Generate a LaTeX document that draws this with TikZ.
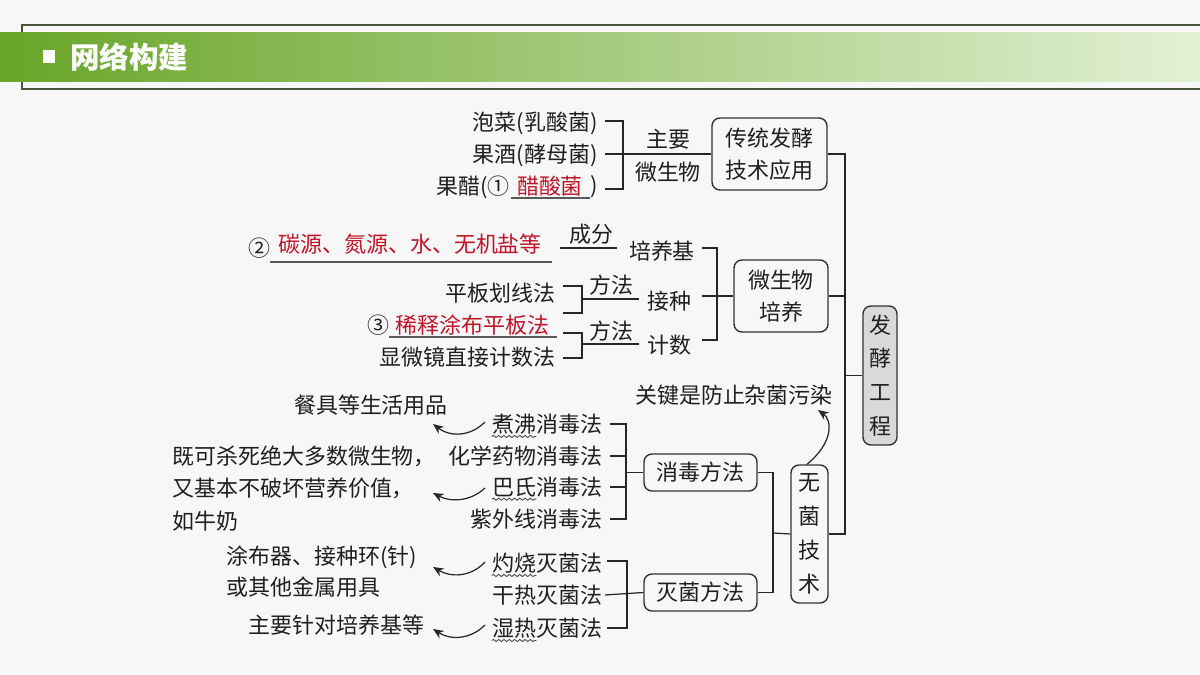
\documentclass[tikz,border=0pt]{standalone}
\usepackage{fontspec}
\newfontfamily\cjk{Noto Sans CJK SC}
\usetikzlibrary{arrows.meta,decorations.pathmorphing}
\definecolor{ansred}{RGB}{192,20,40}
\definecolor{bgc}{RGB}{247,247,247}
\definecolor{gA}{RGB}{104,165,40}
\definecolor{gB}{RGB}{172,216,112}
\definecolor{gC}{RGB}{226,241,212}
\definecolor{frame}{RGB}{70,85,55}
\begin{document}
\begin{tikzpicture}[x=0.02cm,y=-0.02cm,
 txt/.style={inner sep=0pt, font=\cjk\fontsize{12.5}{14}\selectfont, text=black!88},
 ans/.style={txt, text=ansred},
 box/.style={draw=black!80, line width=0.8pt, rounded corners=4.5pt, inner sep=0pt, align=center, font=\cjk\fontsize{12.5}{18.2}\selectfont, text=black!88},
 vbox/.style={box, font=\cjk\fontsize{12.5}{19.3}\selectfont},
 conn/.style={draw=black!85, line width=0.7pt},
 uline/.style={draw=black!65, line width=0.8pt},
 wavy/.style={draw=black!70, line width=0.5pt, decorate, decoration={snake, amplitude=0.6pt, segment length=3pt}},
 carrow/.style={draw=black!85, line width=0.7pt, -{Stealth[length=6pt,width=5pt]}}
]
\useasboundingbox (0,0) rectangle (1200,675);
\fill[bgc] (0,0) rectangle (1200,675);
% header
\draw[frame, line width=0.6pt] (1200,25) -- (22,25) -- (22,89) -- (1200,89);
\shade[left color=gA, middle color=gB, right color=gC] (0,33) rectangle (1200,82);
\fill[white] (43,50) rectangle (55,63);
\node[anchor=west, inner sep=0pt, text=white, font=\cjk\bfseries\fontsize{16.8}{18}\selectfont] (title) at (70,57) {网络构建};

% ---------- traditional fermentation
\node[txt, anchor=east] (pc) at (598,123) {泡菜(乳酸菌)};
\node[txt, anchor=east] (gj) at (598,155) {果酒(酵母菌)};
\node[txt, anchor=east] (gcR) at (598,187) {)};
\node[ans] (a1) at (550,186) {醋酸菌};
\node[txt, anchor=east] (gcL) at (510,187) {果醋(①};
\draw[uline] (511,198) -- (590,198);
\node[txt] (zy) at (668,139) {主要};
\node[txt] (wsw) at (668,172) {微生物};
\node[box, minimum width=2.3cm, minimum height=1.44cm] (bTrad) at (769.5,154) {传统发酵\\技术应用};
\coordinate (b1t) at (605,121);
\coordinate (b1b) at (605,189);
\coordinate (b1m) at (605,154);
\draw[conn] (b1t) -- ++(18,0) |- (b1b);
\draw[conn] (b1m) -- (bTrad.west);

% ---------- culture
\node[txt] (n2) at (259,248) {②};
\node[ans, anchor=west] (a2) at (278,244) {碳源、氮源、水、无机盐等};
\draw[uline] (270,262) -- (552,262);
\node[txt] (cf) at (591,234) {成分};
\coordinate (cfa) at (560,248);
\coordinate (cfb) at (617,248);
\draw[conn] (cfa) -- (cfb);

\node[txt, anchor=east] (pb) at (556,293) {平板划线法};
\node[txt] (n3) at (378,325) {③};
\node[ans, anchor=west] (a3) at (395,325) {稀释涂布平板法};
\draw[uline] (389,337) -- (557,337);
\node[txt, anchor=east] (xwj) at (556,357) {显微镜直接计数法};
\coordinate (p1t) at (563,286);
\coordinate (p1b) at (563,313);
\coordinate (p1m) at (582,299);
\coordinate (p1e) at (639,299);
\draw[conn] (p1t) -- ++(19,0) |- (p1b);
\draw[conn] (p1m) -- (p1e);
\node[txt] (ff1) at (611,285) {方法};
\coordinate (p2t) at (563,333);
\coordinate (p2b) at (563,358);
\coordinate (p2m) at (582,344);
\coordinate (p2e) at (639,344);
\draw[conn] (p2t) -- ++(19,0) |- (p2b);
\draw[conn] (p2m) -- (p2e);
\node[txt] (ff2) at (611,331) {方法};

\node[txt] (pyj) at (662,251) {培养基};
\node[txt] (jz) at (669,301) {接种};
\node[txt] (js) at (669,345) {计数};
\node[box, minimum width=1.88cm, minimum height=1.44cm] (bCult) at (781,296) {微生物\\培养};
\coordinate (c1t) at (702,248);
\coordinate (c1b) at (702,340);
\coordinate (c1m) at (702,296);
\draw[conn] (c1t) -- ++(15,0) |- (c1b);
\draw[conn] (c1m) -- (bCult.west);

% ---------- root
\node[vbox, fill=black!15, minimum width=0.68cm, minimum height=2.78cm] (bFerm) at (880,375.5) {发\\酵\\工\\程};
\node[vbox, minimum width=0.74cm, minimum height=2.76cm] (bWujun) at (809.5,534) {无\\菌\\技\\术};
\coordinate (tk) at (845,0);
\draw[conn] (bTrad.east) -| (tk |- bWujun.east) -- (bWujun.east);
\draw[conn] (bCult.east) -- (tk |- bCult.east);
\draw[conn] (tk |- bFerm.west) -- (bFerm.west);

\node[txt] (gjs) at (734,395) {关键是防止杂菌污染};
\coordinate (gjsTip) at (818,410);
\draw[carrow] ([xshift=-0.05cm]bWujun.north) .. controls (834,442) and (832,420) .. (gjsTip);

% ---------- sterile methods
\node[box, minimum width=2.26cm, minimum height=0.74cm] (bXiao) at (700.5,472.5) {消毒方法};
\node[box, minimum width=2.26cm, minimum height=0.74cm] (bMie) at (700.5,592.5) {灭菌方法};
\coordinate (mj) at (773,533);
\draw[conn] (bXiao.east) -| (mj) |- (bMie.east);
\draw[conn] (mj) -- (bWujun.west);

% disinfection
\node[txt, anchor=east] (zf2) at (603,424) {消毒法};
\node[txt, anchor=east] (zf1) at (zf2.west) {煮沸};
\draw[wavy] ([yshift=-0.04cm]zf1.south west) -- ([yshift=-0.04cm]zf1.south east);
\node[txt, anchor=east] (hx) at (603,456) {化学药物消毒法};
\node[txt, anchor=east] (bs2) at (603,487) {消毒法};
\node[txt, anchor=east] (bs1) at (bs2.west) {巴氏};
\draw[wavy] ([yshift=-0.04cm]bs1.south west) -- ([yshift=-0.04cm]bs1.south east);
\node[txt, anchor=east] (zwx) at (603,519) {紫外线消毒法};
\coordinate (x1t) at (610,424);
\coordinate (x1b) at (610,519);
\coordinate (x1c) at (610,456);
\coordinate (x1d) at (610,487);
\coordinate (x1m) at (626,472.5);
\draw[conn] (x1t) -- ++(16,0) |- (x1b);
\draw[conn] (x1c) -- ++(16,0);
\draw[conn] (x1d) -- ++(16,0);
\draw[conn] (x1m) -- (bXiao.west);

\node[txt] (cj) at (371,405) {餐具等生活用品};
\coordinate (ar1s) at (485,422);
\coordinate (ar1e) at (433,424);
\draw[carrow] (ar1s) .. controls (470,437) and (450,437) .. (ar1e);

\node[txt, anchor=west] (l1) at (172,456) {既可杀死绝大多数微生物，};
\node[txt, anchor=west] (l2) at (172,488) {又基本不破坏营养价值，};
\node[txt, anchor=west] (l3) at (172,521) {如牛奶};
\coordinate (ar2s) at (485,488);
\coordinate (ar2e) at (433,493);
\draw[carrow] (ar2s) .. controls (470,502) and (450,502) .. (ar2e);

% sterilization
\node[txt, anchor=east] (zs2) at (603,563) {灭菌法};
\node[txt, anchor=east] (zs1) at (zs2.west) {灼烧};
\draw[wavy] ([yshift=-0.04cm]zs1.south west) -- ([yshift=-0.04cm]zs1.south east);
\node[txt, anchor=east] (gr) at (603,595) {干热灭菌法};
\node[txt, anchor=east] (sr2) at (603,628) {灭菌法};
\node[txt, anchor=east] (sr1) at (sr2.west) {湿热};
\draw[wavy] ([yshift=-0.04cm]sr1.south west) -- ([yshift=-0.04cm]sr1.south east);
\coordinate (m1t) at (607,561);
\coordinate (m1b) at (607,628);
\draw[conn] (m1t) -- ++(20,0) |- (m1b);
\draw[conn] ([xshift=0.04cm]gr.east) -- (bMie.west);

\node[txt, anchor=west] (tb1) at (226,557) {涂布器、接种环(针)};
\node[txt, anchor=west] (tb2) at (226,587) {或其他金属用具};
\coordinate (ar3s) at (485,562);
\coordinate (ar3e) at (433,567);
\draw[carrow] (ar3s) .. controls (470,578) and (450,577) .. (ar3e);

\node[txt, anchor=west] (zy2) at (248,625) {主要针对培养基等};
\coordinate (ar4s) at (485,625);
\coordinate (ar4e) at (433,629);
\draw[carrow] (ar4s) .. controls (470,640) and (450,640) .. (ar4e);
\end{tikzpicture}
\end{document}
